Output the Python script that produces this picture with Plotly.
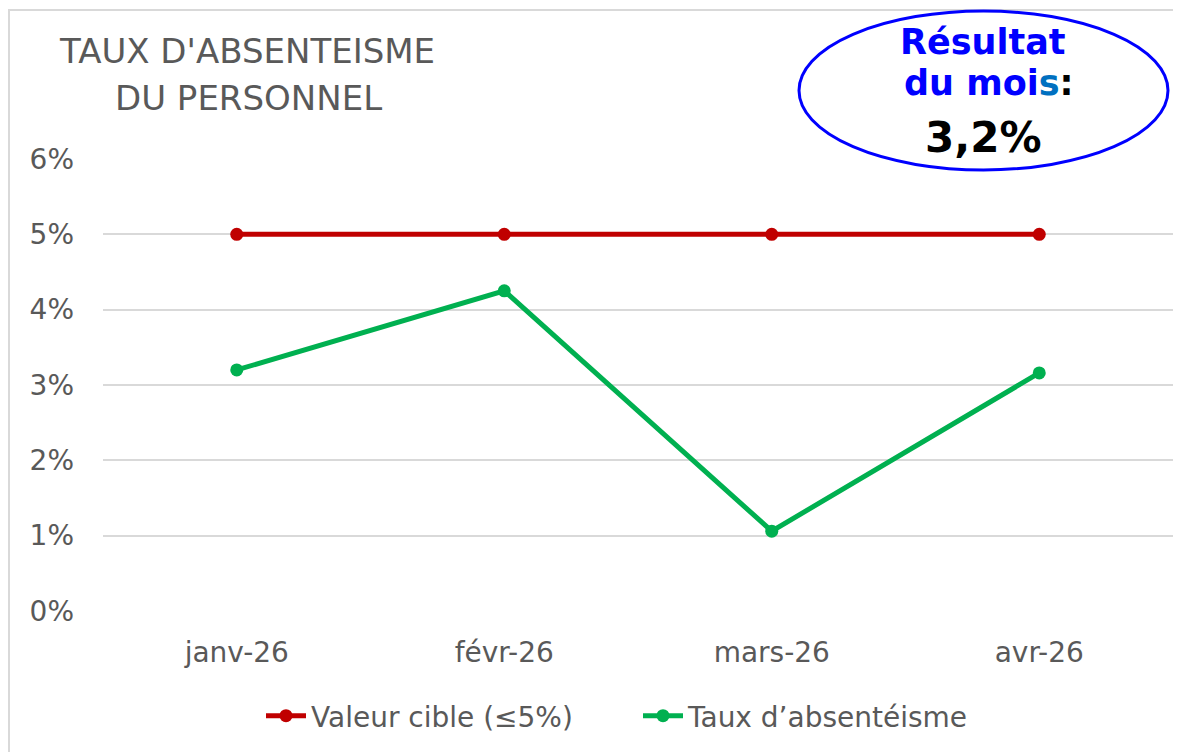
import plotly.graph_objects as go

months = ["janv-26", "févr-26", "mars-26", "avr-26"]
target = [0.05, 0.05, 0.05, 0.05]
absence = [0.032, 0.0425, 0.0106, 0.0316]
y_ticks = [0, 0.01, 0.02, 0.03, 0.04, 0.05, 0.06]
y_tick_labels = ["0%", "1%", "2%", "3%", "4%", "5%", "6%"]

OFF = 8  # page body margin
W, H = 1174, 744
L, R, T, B = 95, 9, 151, 141
pw, ph = W - L - R, H - T - B

def px(x):  # page x -> paper
    return (x - OFF - L) / pw

def py(y):  # page y -> paper
    return (H - B - (y - OFF)) / ph

FONT = "DejaVu Sans"
GREY = "#595959"

fig = go.Figure()
fig.add_trace(go.Scatter(
    x=months, y=target, name="Valeur cible (≤5%)", mode="lines+markers",
    line=dict(color="#C00000", width=5), marker=dict(size=13, color="#C00000")))
fig.add_trace(go.Scatter(
    x=months, y=absence, name="Taux d’absentéisme", mode="lines+markers",
    line=dict(color="#00B050", width=5), marker=dict(size=13, color="#00B050")))

shapes = [
    dict(type="line", xref="paper", yref="paper", x0=px(9), x1=px(9), y0=py(9), y1=py(760),
         line=dict(color="#D9D9D9", width=2)),
    dict(type="line", xref="paper", yref="paper", x0=px(8), x1=px(1173), y0=py(10), y1=py(10),
         line=dict(color="#D9D9D9", width=2)),
    dict(type="circle", xref="paper", yref="paper", x0=px(799), x1=px(1168), y0=py(11), y1=py(170),
         line=dict(color="#0000FF", width=3), fillcolor="white", layer="above"),
]

def ann(x, y, text, size, color, bold=False):
    return dict(xref="paper", yref="paper", x=px(x), y=py(y),
                text=f"<b>{text}</b>" if bold else text, showarrow=False,
                font=dict(family=FONT, size=size, color=color),
                xanchor="center", yanchor="middle")

annotations = [
    ann(247, 51, "TAUX D'ABSENTEISME", 34, GREY),
    ann(248, 98, "DU PERSONNEL", 34, GREY),
    ann(983, 42, "Résultat", 35, "#0000FF", True),
    ann(989, 83, "du moi<span style='color:#0070C0'>s</span><span style='color:#000000'>:</span>",
        35, "#0000FF", True),
    ann(983, 137, "3,2%", 42, "#000000", True),
]

fig.update_layout(
    width=W, height=H, margin=dict(l=L, r=R, t=T, b=B),
    paper_bgcolor="white", plot_bgcolor="white",
    font=dict(family=FONT, color=GREY),
    shapes=shapes, annotations=annotations,
    showlegend=True,
    legend=dict(orientation="h", x=0.5, xanchor="center", y=py(716), yanchor="middle",
                font=dict(family=FONT, size=28, color=GREY), itemwidth=40,
                entrywidth=322),
    xaxis=dict(range=[-0.5, 3.5], showgrid=False, showline=False, zeroline=False, ticks="",
               tickfont=dict(family=FONT, size=28, color=GREY), ticklabelstandoff=22),
    yaxis=dict(range=[0, 0.06], tickvals=y_ticks, ticktext=y_tick_labels,
               showgrid=True, gridcolor="#D9D9D9", gridwidth=1.5, zeroline=False,
               showline=False, ticks="", ticklabelstandoff=28,
               tickfont=dict(family=FONT, size=28, color=GREY)),
)

fig.write_html("out.html")
